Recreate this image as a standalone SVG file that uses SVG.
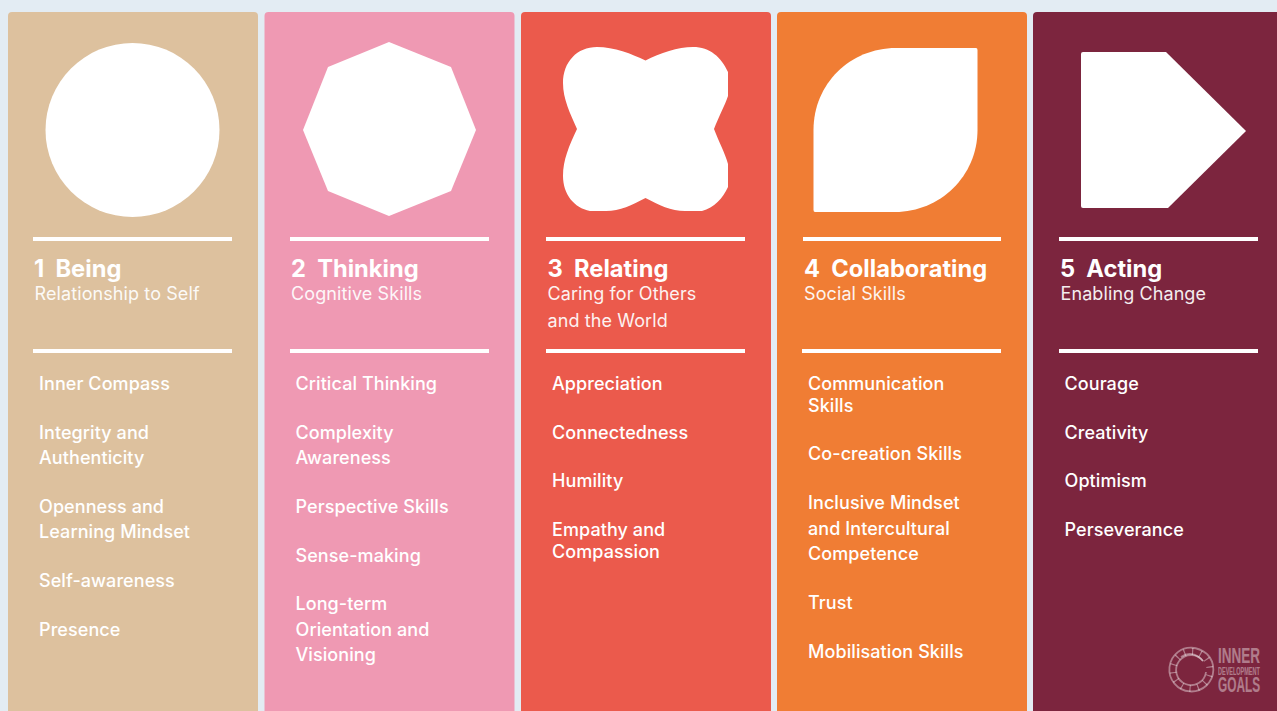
<svg xmlns="http://www.w3.org/2000/svg" width="1277" height="711" viewBox="0 0 1277 711">
<style>
text{font-family:Inter,"Liberation Sans",sans-serif;fill:#fff}
.h{font-size:23.7px;font-weight:700}
.s{font-size:18px;font-weight:400;opacity:.92;letter-spacing:.1px}
.i{font-size:18px;font-weight:500;letter-spacing:.08px}
.r{stroke:#fff;stroke-width:4;fill:none}
.l{fill:#fff;opacity:.4;font-family:"Liberation Sans",sans-serif;font-weight:700}
.g{fill:none;stroke:#fff;stroke-opacity:.4}
</style>
<rect width="1277" height="711" fill="#e3ecf3"/>
<g id="col1">
<rect x="8" y="12" width="250" height="710" rx="4" fill="#ddc19e"/>
<circle cx="132.500" cy="130" r="87" fill="#fff"/>
<path class="r" d="M33 239H232M33 351H232"/>
<text class="h" x="34" y="277" xml:space="preserve">1  Being</text>
<text class="s" x="34.500" y="300">Relationship to Self</text>
<text class="i" x="39" y="390">Inner Compass</text>
<text class="i" x="39" y="439">Integrity and</text><text class="i" x="39" y="464">Authenticity</text>
<text class="i" x="39" y="513">Openness and</text><text class="i" x="39" y="538">Learning Mindset</text>
<text class="i" x="39" y="587">Self-awareness</text>
<text class="i" x="39" y="636">Presence</text>
</g>
<g id="col2">
<rect x="264.500" y="12" width="250" height="710" rx="4" fill="#ef99b3"/>
<path fill="#fff" d="M389 42L451 67L476 130L451 191L389 216L328 191L303 130L328 67Z"/>
<path class="r" d="M290 239H489M290 351H489"/>
<text class="h" x="291" y="277" xml:space="preserve">2  Thinking</text>
<text class="s" x="291" y="300">Cognitive Skills</text>
<text class="i" x="295.500" y="390">Critical Thinking</text>
<text class="i" x="295.500" y="439">Complexity</text><text class="i" x="295.500" y="464">Awareness</text>
<text class="i" x="295.500" y="513">Perspective Skills</text>
<text class="i" x="295.500" y="562">Sense-making</text>
<text class="i" x="295.500" y="610">Long-term</text><text class="i" x="295.500" y="636">Orientation and</text><text class="i" x="295.500" y="661">Visioning</text>
</g>
<g id="col3">
<rect x="521" y="12" width="250" height="710" rx="4" fill="#eb5a4c"/>
<path fill="#fff" d="M645.500 60.500C632 54 614 47 597 47C577 47 563 62 563 83C563 99 570 113 577 129C569 146 563 160 563 176C563 194 574 208 590 211H606C620 211 632 205 645.500 198C659 205 671 211 685 211H702C714 208 723 198 728 187V164C725 153 719 142 714 129C719 116 725 105 728 96V72C721 57 710 47 693 47C678 47 660 53 645.500 60.500Z"/>
<path class="r" d="M546 239H745M546 351H745"/>
<text class="h" x="547.500" y="277" xml:space="preserve">3  Relating</text>
<text class="s" x="547.500" y="300">Caring for Others</text><text class="s" x="547.500" y="327">and the World</text>
<text class="i" x="552" y="390">Appreciation</text>
<text class="i" x="552" y="439">Connectedness</text>
<text class="i" x="552" y="487">Humility</text>
<text class="i" x="552" y="536">Empathy and</text><text class="i" x="552" y="558">Compassion</text>
</g>
<g id="col4">
<rect x="777" y="12" width="250" height="710" rx="4" fill="#f07d34"/>
<path fill="#fff" d="M815 212Q813.500 212 813.500 210V130C813.500 84 850 48 896 48H976Q977.500 48 977.500 50V130C977.500 176 940 212 895 212Z"/>
<path class="r" d="M803 239H1001M802 351H1001"/>
<text class="h" x="804" y="277" xml:space="preserve">4  Collaborating</text>
<text class="s" x="804" y="300">Social Skills</text>
<text class="i" x="808" y="390">Communication</text><text class="i" x="808" y="412">Skills</text>
<text class="i" x="808" y="460">Co-creation Skills</text>
<text class="i" x="808" y="509">Inclusive Mindset</text><text class="i" x="808" y="535">and Intercultural</text><text class="i" x="808" y="560">Competence</text>
<text class="i" x="808" y="609">Trust</text>
<text class="i" x="808" y="658">Mobilisation Skills</text>
</g>
<g id="col5">
<rect x="1033" y="12" width="250" height="710" rx="4" fill="#7c253e"/>
<path fill="#fff" d="M1083 52H1166L1246 131L1168 208H1083Q1081 208 1081 206V54Q1081 52 1083 52Z"/>
<path class="r" d="M1059 239H1258M1059 351H1258"/>
<text class="h" x="1060" y="277" xml:space="preserve">5  Acting</text>
<text class="s" x="1060.500" y="300">Enabling Change</text>
<text class="i" x="1064.500" y="390">Courage</text>
<text class="i" x="1064.500" y="439">Creativity</text>
<text class="i" x="1064.500" y="487">Optimism</text>
<text class="i" x="1064.500" y="536">Perseverance</text>
</g>
<g id="logo">
<path class="g" stroke-width="1.800" d="M1178 652A22 22 0 1 0 1207 654"/>
<path class="g" stroke-width="1.800" d="M1203 661A15 15 0 1 0 1206 672"/>
<path class="g" stroke-width="1.800" d="M1178 652C1186 646 1197 646 1207 654M1181 657C1188 652 1196 653 1203 661"/>
<circle class="g" cx="1191.500" cy="670" r="18.500" stroke-width="7" stroke-dasharray="1.200 7" stroke-dashoffset="3"/>
<text class="l" transform="translate(1218 663) scale(.614 1)" font-size="22">INNER</text>
<text class="l" transform="translate(1218 675) scale(.5 1)" font-size="11">DEVELOPMENT</text>
<text class="l" transform="translate(1218 692) scale(.538 1)" font-size="22">GOALS</text>
</g>
</svg>
